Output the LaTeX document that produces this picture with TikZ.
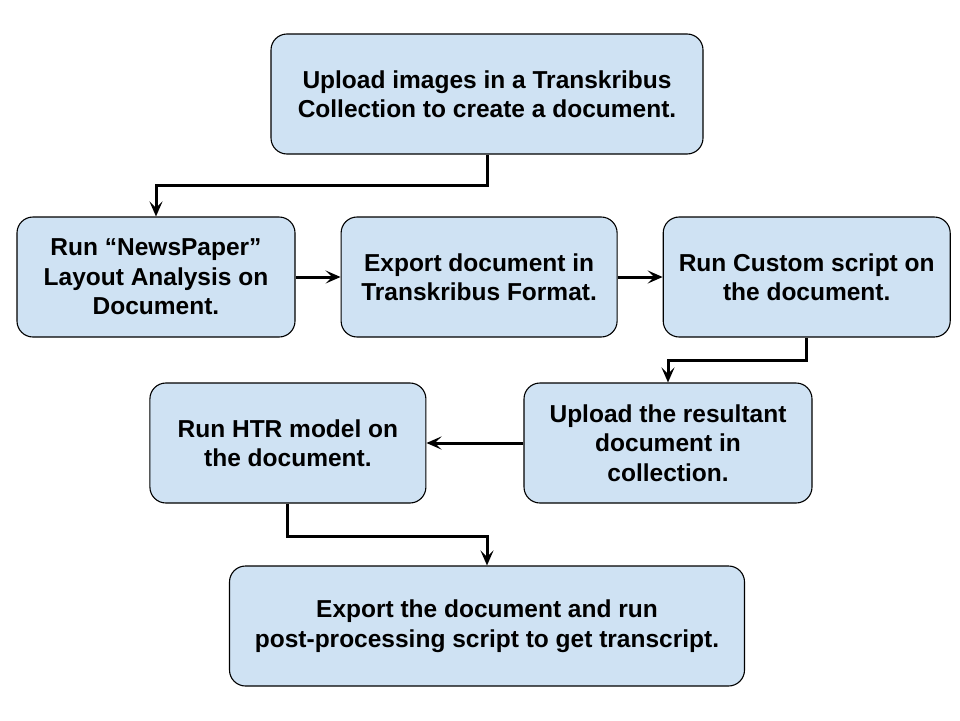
\documentclass[tikz,border=0pt]{standalone}
\usepackage{fontspec}
\setmainfont{Liberation Sans}
\usetikzlibrary{positioning,arrows.meta}
\definecolor{boxfill}{HTML}{CFE2F3}
\tikzset{
  stepbox/.style={draw=black, line width=1.1pt, fill=boxfill, rounded corners=16pt,
    align=center, font=\fontsize{24.5}{29.5}\selectfont\bfseries, inner sep=0pt},
  link/.style={draw=black, line width=3pt, -{Stealth[length=15pt,width=13pt,inset=6.5pt]}}
}
\begin{document}
\begin{tikzpicture}[x=1pt, y=-1pt, node distance=45pt]
	\useasboundingbox (0,0) rectangle (960,720);
	\node(upload)[stepbox, minimum width=432pt, minimum height=120pt] at (487,94)
		{Upload images in a Transkribus\\Collection to create a document.};
	\node(layout)[stepbox, minimum width=278pt, minimum height=120pt] at (156,277)
		{Run “NewsPaper”\\Layout Analysis on\\Document.};
	\node(export)[stepbox, minimum width=276pt, minimum height=120pt, right=of layout]
		{Export document in\\Transkribus Format.};
	\node(custom)[stepbox, minimum width=287pt, minimum height=120pt, right=of export]
		{Run Custom script on\\the document.};
	\node(reup)[stepbox, minimum width=288pt, minimum height=120pt] at (668,443)
		{Upload the resultant\\document in\\collection.};
	\node(htr)[stepbox, minimum width=276pt, minimum height=120pt, left=97pt of reup]
		{Run HTR model on\\the document.};
	\node(post)[stepbox, minimum width=515pt, minimum height=120pt] at (487,626)
		{Export the document and run\\post-processing script to get transcript.};
	\draw[link](upload.south) -- ++(0,31) -| (layout.north);
	\draw[link](layout) to (export);
	\draw[link](export) to (custom);
	\draw[link](custom.south) -- ++(0,23) -| (reup.north);
	\draw[link](reup) to (htr);
	\draw[link](htr.south) -- ++(0,33) -| (post.north);
\end{tikzpicture}
\end{document}
